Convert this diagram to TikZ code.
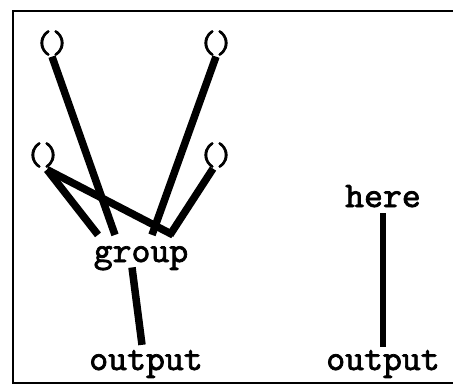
\documentclass[tikz,border=0pt]{standalone}
\usepackage{fontspec}
\newfontfamily\labfont{lmmono10-regular.otf}[FakeBold=2]
\begin{document}
\begin{tikzpicture}[x=1pt,y=-1pt,
  lab/.style={font=\labfont\fontsize{36}{36}\selectfont, inner sep=0pt, anchor=base},
  par/.style={font=\labfont\fontsize{32}{32}\selectfont, inner sep=0pt},
  wire/.style={line width=7.5pt},
  thinwire/.style={line width=6pt},
  frame/.style={line width=2pt}]
\useasboundingbox (0,0) rectangle (453,386);
\draw[frame] (453,11) -- (13,11) -- (13,383) -- (453,383);
\node[par] (tl) at (52,43) {()};
\node[par] (tr) at (216,43) {()};
\node[par] (ml) at (43,155) {()};
\node[par] (mr) at (216,155) {()};
\node[lab] (grp) at (141,262) {group};
\node[lab] (outL) at (146,370) {output};
\node[lab] (here) at (383,207) {here};
\node[lab] (outR) at (383,370) {output};
\draw[wire] ([yshift=-1pt]tl.south) -- ([xshift=-26pt,yshift=11pt]grp.north);
\draw[wire] ([yshift=-1pt]tr.south) -- ([xshift=11pt,yshift=11pt]grp.north);
\draw[wire] ([xshift=4pt,yshift=-2pt]ml.south) -- ([xshift=-43pt,yshift=11pt]grp.north);
\draw[wire] ([xshift=4pt,yshift=-2pt]ml.south) -- ([xshift=32pt,yshift=11pt]grp.north);
\draw[wire] ([xshift=-3pt,yshift=-1pt]mr.south) -- ([xshift=29pt,yshift=11pt]grp.north);
\draw[wire] ([xshift=-9pt,yshift=3pt]grp.south) -- ([xshift=-4pt,yshift=5pt]outL.north);
\draw[thinwire] ([yshift=-6pt]here.south) -- ([yshift=3pt]outR.north);
\end{tikzpicture}
\end{document}
